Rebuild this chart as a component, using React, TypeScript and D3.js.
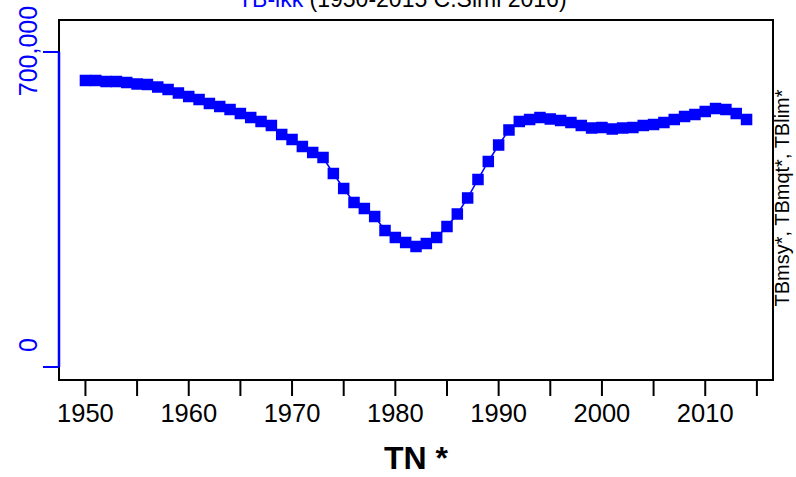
import * as d3 from "d3";

const years = d3.range(1950, 2015);
const biomass = [
  636700, 636700, 634400, 634400, 632200, 628900, 627800, 622200, 616700, 608900,
  601100, 594400, 585600, 578900, 572200, 563300, 554400, 545600, 536700, 516700,
  505600, 490000, 476700, 465600, 430000, 396700, 365600, 352200, 334400, 303300,
  287800, 276700, 267800, 274400, 287800, 312200, 340000, 375600, 416700, 456700,
  493300, 526700, 545600, 550000, 554400, 551100, 547800, 543300, 536700, 531100,
  532200, 528900, 531100, 532200, 536700, 538900, 543300, 550000, 556700, 561100,
  567800, 574400, 572200, 563300, 550000,
];
const xTicks = d3.range(1950, 2016, 5);
const xLabels = [1950, 1960, 1970, 1980, 1990, 2000, 2010];
const yTicks = [0, 700000];

const W = 796;
const H = 477;
const box = { left: 59, right: 773, top: 20, bottom: 380 };
const BLUE = "#0000ff";
const FONT = "'Liberation Sans', Arial, sans-serif";

export default function App() {
  const x = d3.scaleLinear().domain([1947.44, 2016.56]).range([box.left, box.right]);
  const y = d3.scaleLinear().domain([0, 700000]).range([367, 52]);
  const pts = years.map((yr, i) => ({ yr, v: biomass[i] }));
  const line = d3
    .line<{ yr: number; v: number }>()
    .x((d) => x(d.yr))
    .y((d) => y(d.v));
  const fmt = d3.format(",");
  const sq = 11.5;

  return (
    <svg
      width={W}
      height={H}
      style={{ position: "absolute", left: 0, top: 0, background: "#fff" }}
      fontFamily={FONT}
    >
      {/* title, mostly cut off at the top */}
      <text x={238} y={7} fontSize={23}>
        <tspan fill={BLUE}>TB-ikk</tspan>
        <tspan fill="#000"> (1950-2015 C.Simi 2016)</tspan>
      </text>

      <rect
        x={box.left}
        y={box.top}
        width={box.right - box.left}
        height={box.bottom - box.top}
        fill="none"
        stroke="#000"
        strokeWidth={2}
      />

      {/* y axis in blue */}
      <line
        x1={box.left}
        x2={box.left}
        y1={y(yTicks[0])}
        y2={y(yTicks[yTicks.length - 1])}
        stroke={BLUE}
        strokeWidth={2.5}
      />
      {yTicks.map((t) => (
        <line key={t} x1={43} x2={box.left} y1={y(t)} y2={y(t)} stroke={BLUE} strokeWidth={2} />
      ))}
      <text
        transform={`translate(37,${y(700000) - 1}) rotate(-90)`}
        textAnchor="middle"
        fontSize={25}
        fill={BLUE}
      >
        {fmt(700000)}
      </text>
      <text
        transform={`translate(37,${y(0) - 22}) rotate(-90)`}
        textAnchor="middle"
        fontSize={25}
        fill={BLUE}
      >
        {fmt(0)}
      </text>

      {/* x axis */}
      {xTicks.map((t) => (
        <line key={t} x1={x(t)} x2={x(t)} y1={box.bottom} y2={396} stroke="#000" strokeWidth={2} />
      ))}
      {xLabels.map((t) => (
        <text key={t} x={x(t)} y={422} textAnchor="middle" fontSize={25.5} fill="#000">
          {t}
        </text>
      ))}
      <text x={416} y={469} textAnchor="middle" fontSize={32} fontWeight="bold" fill="#000">
        TN *
      </text>

      {/* right label */}
      <text
        transform={`translate(789,${(box.top + box.bottom) / 2 - 2}) rotate(-90)`}
        textAnchor="middle"
        fontSize={20}
        fill="#000"
      >
        TBmsy*, TBmqt*, TBlim*
      </text>

      <path d={line(pts) ?? ""} fill="none" stroke={BLUE} strokeWidth={1.5} />
      {pts.map((d) => (
        <rect
          key={d.yr}
          x={x(d.yr) - sq / 2}
          y={y(d.v) - sq / 2}
          width={sq}
          height={sq}
          fill={BLUE}
        />
      ))}
    </svg>
  );
}
